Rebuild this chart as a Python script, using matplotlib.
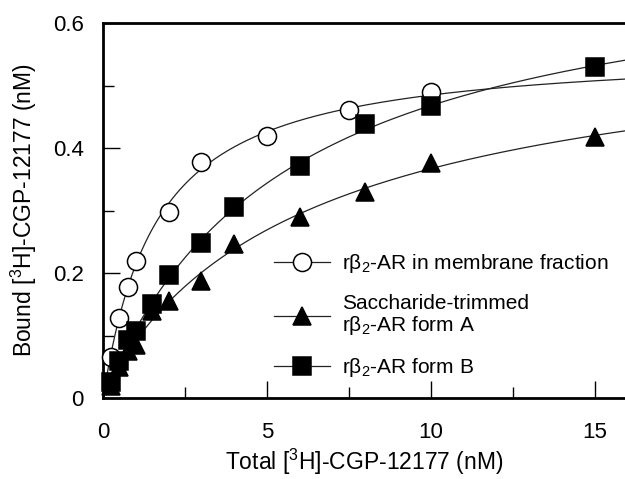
import numpy as np
import matplotlib
matplotlib.use('Agg')
import matplotlib.pyplot as plt
from matplotlib.ticker import MultipleLocator

# ---- data ----
x_membrane = [0.25, 0.5, 0.75, 1, 2, 3, 5, 7.5, 10]
y_membrane = [0.066, 0.128, 0.178, 0.22, 0.298, 0.378, 0.42, 0.461, 0.49]

x_formA = [0.25, 0.5, 0.75, 1, 1.5, 2, 3, 4, 6, 8, 10, 15]
y_formA = [0.02, 0.05, 0.075, 0.085, 0.14, 0.155, 0.188, 0.247, 0.29, 0.33, 0.376, 0.418]

x_formB = [0.25, 0.5, 0.75, 1, 1.5, 2, 3, 4, 6, 8, 10, 15]
y_formB = [0.026, 0.059, 0.093, 0.108, 0.15, 0.197, 0.248, 0.306, 0.371, 0.438, 0.467, 0.53]

labels = ["rβ$_2$-AR in membrane fraction",
          "Saccharide-trimmed\nrβ$_2$-AR form A",
          "rβ$_2$-AR form B"]

x_ticks = [0, 5, 10, 15]
y_ticks = [0, 0.2, 0.4, 0.6]
y_ticklabels = ['0', '0.2', '0.4', '0.6']


def hill_fit(x, y):
    x = np.asarray(x, float)
    y = np.asarray(y, float)
    best = None
    for K in np.linspace(0.2, 15, 297):
        for n in np.linspace(0.7, 1.8, 45):
            f = x ** n / (K ** n + x ** n)
            bm = (f @ y) / (f @ f)
            err = ((bm * f - y) ** 2).sum()
            if best is None or err < best[0]:
                best = (err, bm, K, n)
    return best[1:]


plt.rcParams['font.family'] = ['Liberation Sans', 'DejaVu Sans']
plt.rcParams['mathtext.default'] = 'regular'

fig = plt.figure(figsize=(6.25, 4.79), dpi=100)
ax = fig.add_axes([103 / 625, 1 - 398 / 479, 1 - 103 / 625, (398 - 23) / 479])

xmax = 15.92
xs = np.linspace(0, xmax, 400)

series = [
    (x_membrane, y_membrane, dict(marker='o', mfc='white')),
    (x_formA, y_formA, dict(marker='^', mfc='black')),
    (x_formB, y_formB, dict(marker='s', mfc='black')),
]
handles = []
for (xd, yd, st), lab in zip(series, labels):
    bm, K, n = hill_fit(xd, yd)
    xf = np.maximum(xs, 1e-9)
    ax.plot(xs, bm * xf ** n / (K ** n + xf ** n), color='#222222', lw=0.9, zorder=2)
    ax.plot(xd, yd, linestyle='none', marker=st['marker'], ms=13,
            mfc=st['mfc'], mec='black', mew=1.1, zorder=3, clip_on=False)
    h, = ax.plot([], [], color='#222222', lw=0.9, marker=st['marker'], ms=13,
                 mfc=st['mfc'], mec='black', mew=1.1, label=lab)
    handles.append(h)

ax.set_xlim(0, xmax)
ax.set_ylim(0, 0.6)
ax.set_xticks(x_ticks)
ax.set_yticks(y_ticks)
ax.set_xticklabels([str(t) for t in x_ticks])
ax.set_yticklabels(y_ticklabels)
ax.xaxis.set_minor_locator(MultipleLocator(2.5))
ax.yaxis.set_minor_locator(MultipleLocator(0.1))
ax.tick_params(which='major', direction='in', length=12, width=1, labelsize=16)
ax.tick_params(axis='x', which='major', pad=17)
ax.tick_params(axis='y', which='major', pad=14)
ax.tick_params(which='minor', direction='in', length=8, width=1)
ax.tick_params(top=False, right=False, which='both')

for s in ['left', 'bottom', 'top']:
    ax.spines[s].set_linewidth(2)
ax.spines['right'].set_visible(False)

ax.set_xlabel('Total [$^3$H]-CGP-12177 (nM)', fontsize=16.5, labelpad=3)
ax.set_ylabel('Bound [$^3$H]-CGP-12177 (nM)', fontsize=16.5, labelpad=10)

leg = ax.legend(handles=handles, loc='upper left', bbox_to_anchor=(0.3276, 0.389),
                frameon=False, fontsize=15, numpoints=1, handlelength=2.7,
                handletextpad=0.55, labelspacing=0.92, borderpad=0, borderaxespad=0)
for t in leg.get_texts():
    t.set_linespacing(1.05)

fig.savefig('out.png', dpi=100)
